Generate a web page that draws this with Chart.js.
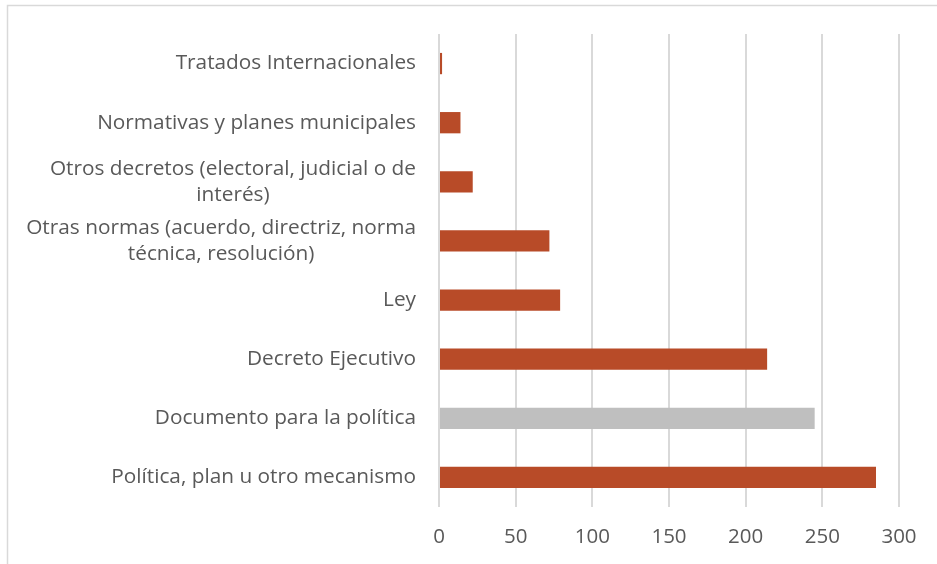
<!DOCTYPE html>
<html>
<head>
<meta charset="utf-8">
<script src="https://cdn.jsdelivr.net/npm/chart.js@4"></script>
<style>
  html, body { margin: 0; padding: 0; background: #fff; }
  #wrap { width: 937px; height: 564px; }
</style>
</head>
<body>
<div id="wrap"><canvas id="myChart" width="937" height="564"></canvas></div>
<script>
    var categories = [
      'Tratados Internacionales',
      'Normativas y planes municipales',
      ['Otros decretos (electoral, judicial o de', 'interés)'],
      ['Otras normas (acuerdo, directriz, norma', 'técnica, resolución)'],
      'Ley',
      'Decreto Ejecutivo',
      'Documento para la política',
      'Política, plan u otro mecanismo'
    ];
    var values = [2, 14, 22, 72, 79, 214, 245, 285];
    var barColors = ['#B84B28', '#B84B28', '#B84B28', '#B84B28', '#B84B28', '#B84B28', '#BFBFBF', '#B84B28'];
    var xTicks = [0, 50, 100, 150, 200, 250, 300];

    var FONT = '"Open Sans", sans-serif';
    var TEXT = '#595959';

    // category labels: block right aligned, lines centered inside the block
    var labelPlugin = {
      id: 'labels',
      afterDraw: function(chart) {
        var c = chart.ctx;
        var y = chart.scales.y;
        var right = chart.chartArea.left - 23;
        c.save();
        c.font = '20.8px ' + FONT;
        c.fillStyle = TEXT;
        c.textAlign = 'center';
        c.textBaseline = 'middle';
        categories.forEach(function(lab, i) {
          var lines = Array.isArray(lab) ? lab : [lab];
          var w = 0;
          lines.forEach(function(l) { w = Math.max(w, c.measureText(l).width); });
          var cx = right - w / 2;
          var py = y.getPixelForTick(i);
          lines.forEach(function(l, j) {
            c.fillText(l, cx, py + (j - (lines.length - 1) / 2) * 26);
          });
        });
        // outer frame
        c.strokeStyle = '#d9d9d9';
        c.lineWidth = 1.5;
        c.strokeRect(7.5, 5.5, 1000, 1000);
        c.restore();
      }
    };

    var ctx = document.getElementById('myChart').getContext('2d');
    var chart = new Chart(ctx, {
        type: 'bar',
        data: {
            labels: categories,
            datasets: [{
                data: values,
                backgroundColor: barColors,
                categoryPercentage: 1,
                barPercentage: 0.36
            }]
        },
        options: {
            indexAxis: 'y',
            responsive: false,
            animation: false,
            layout: { padding: { top: 34, right: 38, left: 0, bottom: 0 } },
            plugins: {
                legend: { display: false },
                tooltip: { enabled: false }
            },
            scales: {
                x: {
                    min: 0,
                    max: 300,
                    afterBuildTicks: function(s) { s.ticks = xTicks.map(function(v) { return { value: v }; }); },
                    afterFit: function(s) { s.height = 57; },
                    grid: { color: '#d9d9d9', lineWidth: 2, tickLength: 0 },
                    border: { display: false },
                    ticks: { color: TEXT, font: { size: 20.5, family: FONT }, padding: 18 }
                },
                y: {
                    afterFit: function(s) { s.width = 439; },
                    grid: { display: false },
                    border: { display: false },
                    ticks: { display: false }
                }
            }
        },
        plugins: [labelPlugin]
    });
</script>
</body>
</html>
